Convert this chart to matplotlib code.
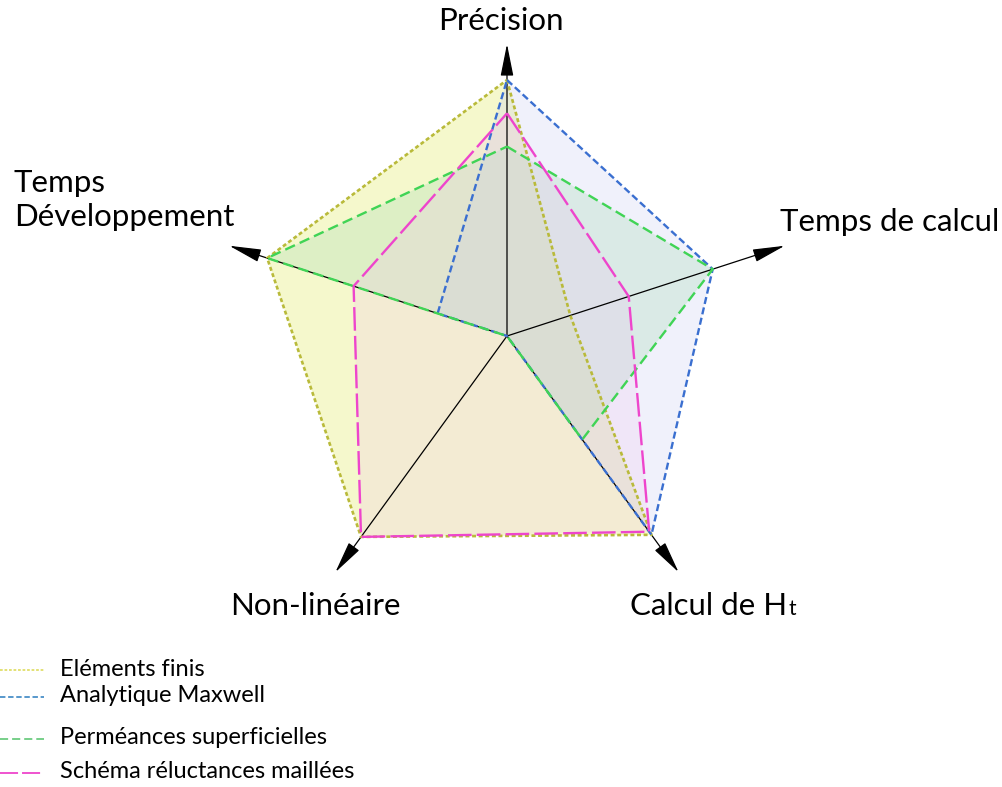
"""
Radar chart comparing magnetic modelling methods.
Generates: out.png
"""

import numpy as np
import matplotlib.pyplot as plt

plt.rcParams["font.family"] = ["Lato", "DejaVu Sans"]

# axes of the radar, clockwise from the top
axes_labels = ["Précision", "Temps de calcul", "Calcul de H", "Non-linéaire", "Temps\nDéveloppement"]

# scores on a 0..10 scale
methods = ["Eléments finis", "Analytique Maxwell", "Perméances superficielles", "Schéma réluctances maillées"]
elements_finis = [10.0, 2.6, 9.6, 9.7, 9.85]
analytique_maxwell = [10.0, 8.45, 9.6, 0.0, 2.85]
permeances = [7.4, 8.45, 5.0, 0.0, 9.85]
reluctances = [8.7, 5.0, 9.45, 9.7, 6.3]

# styles
line_colors = ["#b9ba3a", "#3a6fd0", "#40d455", "#ee45cc"]
fill_colors = ["#e6ef7a", "#c4c8f2", "#a8dcb8", "#f0c0f0"]
fill_alpha = [0.38, 0.25, 0.30, 0.22]
dashes = [(0, (1.5, 1.0)), (0, (3.0, 1.5)), (0, (4.5, 2.2)), (0, (10, 2.2))]
line_widths = [1.9, 1.7, 1.7, 1.7]
legend_colors = ["#e0de6a", "#4a90c8", "#6ccc80", "#ee45cc"]

CX, CY = 507, 336       # centre in pixels
R_MAX = 256             # radius for a score of 10
ARROW_LEN = 292
angles = np.deg2rad([90, 18, -54, -126, 162])


def to_xy(values):
    r = np.asarray(values) / 10.0 * R_MAX
    x = CX + r * np.cos(angles)
    y = CY - r * np.sin(angles)
    return np.append(x, x[0]), np.append(y, y[0])


fig = plt.figure(figsize=(10.02, 7.87), dpi=100)
ax = fig.add_axes([0, 0, 1, 1])
ax.set_xlim(0, 1002)
ax.set_ylim(787, 0)
ax.axis("off")

series = [elements_finis, analytique_maxwell, permeances, reluctances]

# fills first
for i, vals in enumerate(series):
    x, y = to_xy(vals)
    ax.fill(x, y, color=fill_colors[i], alpha=fill_alpha[i], lw=0, zorder=1)

# axis arrows
for a in angles:
    tip = (CX + ARROW_LEN * np.cos(a), CY - ARROW_LEN * np.sin(a))
    ax.annotate("", xy=tip, xytext=(CX, CY),
                arrowprops=dict(arrowstyle="-|>,head_length=1.0,head_width=0.2",
                                color="black", lw=0.9,
                                mutation_scale=20, shrinkA=0, shrinkB=0),
                zorder=2)

# outlines
for i, vals in enumerate(series):
    x, y = to_xy(vals)
    ax.plot(x, y, color=line_colors[i], lw=line_widths[i], linestyle=dashes[i],
            zorder=3)

# axis labels
fs = 22.5
ax.text(501, 21, axes_labels[0], fontsize=fs, ha="center", va="center")
ax.text(780, 222, axes_labels[1], fontsize=fs, ha="left", va="center")
t = ax.text(630, 606, axes_labels[2], fontsize=fs, ha="left", va="center")
ax.annotate("t", xy=(1, 0), xycoords=t, xytext=(1, 1), textcoords="offset points",
            fontsize=15, ha="left", va="bottom")
ax.text(315, 606, axes_labels[3], fontsize=fs, ha="center", va="center")
ax.text(14, 200, axes_labels[4], fontsize=fs, ha="left", va="center", linespacing=1.3)

# legend
leg_y = [670, 697, 739, 773]
for i, name in enumerate(methods):
    ax.plot([0, 44], [leg_y[i], leg_y[i]], color=legend_colors[i], lw=1.3,
            linestyle=dashes[i])
    ax.text(60, leg_y[i] - 1, name, fontsize=17, ha="left", va="center")

fig.savefig("out.png", dpi=100)
plt.close(fig)
